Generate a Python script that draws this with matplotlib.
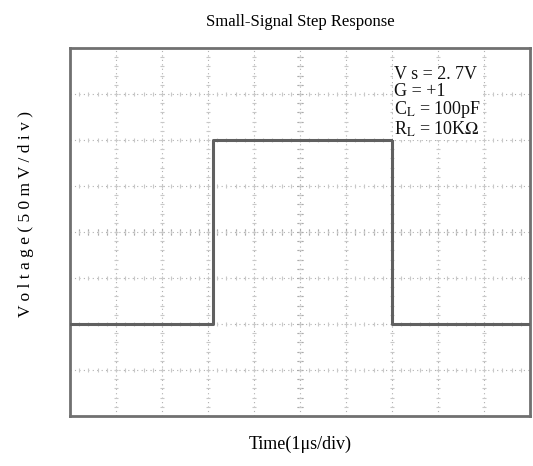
import numpy as np
import matplotlib
matplotlib.use("Agg")
import matplotlib.pyplot as plt

plt.rcParams['font.family'] = 'Liberation Serif'
plt.rcParams['mathtext.fontset'] = 'stix'

# step waveform, in divisions (x: 1us/div, y: 50mV/div, 0 = center line)
time_div = [0, 3.1, 3.1, 7.0, 7.0, 10]
volt_div = [-2, -2, 2, 2, -2, -2]

notes = ["V s = 2. 7V", "G = +1", "C$_\\mathrm{L}$ = 100pF", "R$_\\mathrm{L}$ = 10K$\\Omega$"]

fig = plt.figure(figsize=(5.33, 4.66), dpi=100)
ax = fig.add_axes([0.1313, 0.1073, 0.8631, 0.7897])

ax.set_xlim(0, 10)
ax.set_ylim(-4, 4)

# scope graticule
for x in range(1, 10):
    ax.axvline(x, color='#b0b0b0', lw=0.8, ls=(0, (1, 3)), zorder=1)
for y in range(-3, 4):
    ax.axhline(y, color='#b0b0b0', lw=0.8, ls=(0, (1, 3)), zorder=1)

# small tick marks on center cross and grid lines
minor = np.arange(0, 10.01, 0.2)
ax.plot(minor, np.zeros_like(minor), '|', color='#909090', ms=4, mew=0.8, zorder=2)
minor_y = np.arange(-4, 4.01, 0.2)
ax.plot(np.full_like(minor_y, 5), minor_y, '_', color='#909090', ms=4, mew=0.8, zorder=2)
for x in range(1, 10):
    ax.plot(np.full_like(minor_y, x), minor_y, '_', color='#c8c8c8', ms=2.5, mew=0.8, zorder=2)
for y in range(-3, 4):
    ax.plot(minor, np.full_like(minor, y), '|', color='#c8c8c8', ms=2.5, mew=0.8, zorder=2)

ax.plot(time_div, volt_div, color='#606060', lw=2.2, zorder=3)

ax.set_xticks([])
ax.set_yticks([])
for s in ax.spines.values():
    s.set_color('#707070')
    s.set_linewidth(2)

ax.text(7.05, 3.6, "\n".join(notes), fontsize=13, va='top', ha='left',
        linespacing=0.95, color='#111111', zorder=4,
        bbox=dict(facecolor='white', edgecolor='none', pad=1))

ax.set_title("Small-Signal Step Response", fontsize=12, pad=16)
ax.set_xlabel("Time(1μs/div)", fontsize=13, labelpad=14)
ax.set_ylabel("V o l t a g e ( 5 0 m V / d i v )", fontsize=12.5)
ax.yaxis.set_label_coords(-0.078, 0.55)

fig.savefig("out.png", dpi=100)
